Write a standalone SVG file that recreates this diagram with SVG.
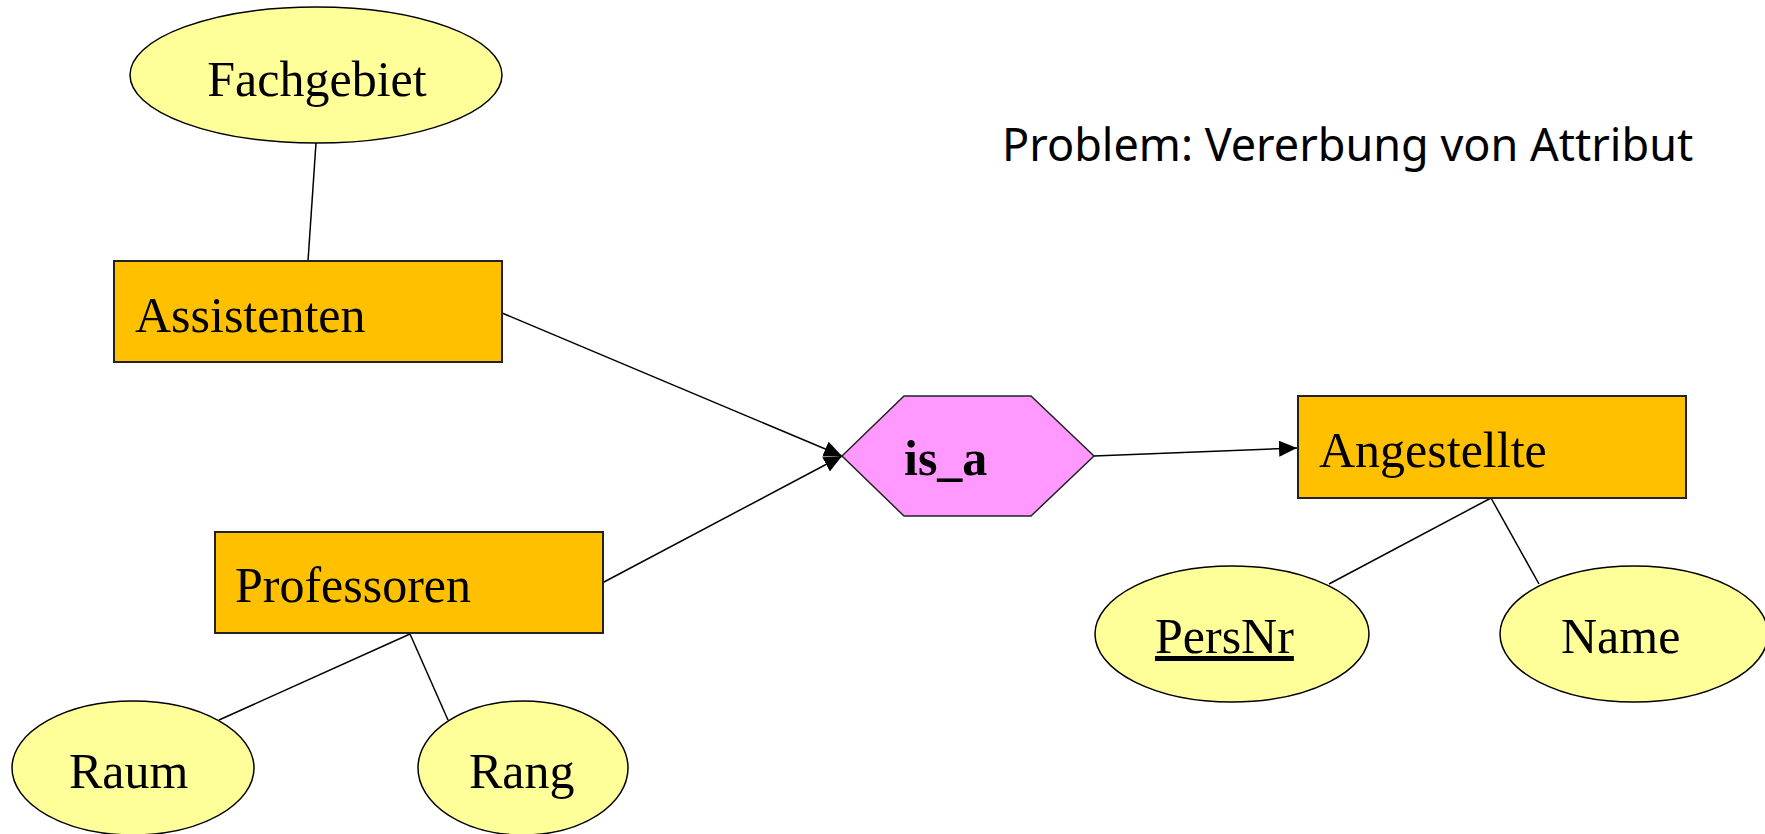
<svg xmlns="http://www.w3.org/2000/svg" width="1765" height="834" viewBox="0 0 1765 834">
<style>
.attr{fill:#FFFF99;stroke:#000;stroke-width:1.5}
.ent{fill:#FFC000;stroke:#222;stroke-width:2}
.rel{fill:#FF99FF;stroke:#222;stroke-width:1.5}
.lbl{font-family:"Liberation Serif","Times New Roman",serif;font-size:50px;fill:#000}
.edge{stroke:#000;stroke-width:1.5;fill:none}
</style>
<defs>
<marker id="arr" markerUnits="userSpaceOnUse" markerWidth="20" markerHeight="18" refX="18" refY="8" orient="auto">
<path d="M0,0 L18,8 L0,16 z" fill="#000"/>
</marker>
</defs>
<rect width="1765" height="834" fill="#fff"/>
<g id="connectors">
<line class="edge" x1="316" y1="143" x2="308" y2="261"/>
<line class="edge" x1="502" y1="313" x2="842" y2="456" marker-end="url(#arr)"/>
<line class="edge" x1="604" y1="582" x2="842" y2="456" marker-end="url(#arr)"/>
<line class="edge" x1="1094" y1="456" x2="1297" y2="448" marker-end="url(#arr)"/>
<line class="edge" x1="1491" y1="498" x2="1329" y2="584"/>
<line class="edge" x1="1491" y1="498" x2="1539" y2="584"/>
<line class="edge" x1="410" y1="634" x2="219" y2="720"/>
<line class="edge" x1="410" y1="634" x2="448" y2="720"/>
</g>
<g id="title">
<text x="1002" y="161" font-family="'Noto Sans','Open Sans',sans-serif" font-size="45">Problem: Vererbung von Attribut</text>
</g>
<g id="Fachgebiet">
<ellipse class="attr" cx="316" cy="75" rx="186" ry="68"/>
<text class="lbl" x="317" y="96" text-anchor="middle">Fachgebiet</text>
</g>
<g id="Assistenten">
<rect class="ent" x="114" y="261" width="388" height="101"/>
<text class="lbl" x="135" y="332">Assistenten</text>
</g>
<g id="Professoren">
<rect class="ent" x="215" y="532" width="388" height="101"/>
<text class="lbl" x="235" y="602">Professoren</text>
</g>
<g id="is_a">
<polygon class="rel" points="842,456 904,396 1031,396 1094,456 1031,516 904,516"/>
<text class="lbl" x="904" y="475" font-weight="bold">is_a</text>
</g>
<g id="Angestellte">
<rect class="ent" x="1298" y="396" width="388" height="102"/>
<text class="lbl" x="1319" y="467">Angestellte</text>
</g>
<g id="PersNr">
<ellipse class="attr" cx="1232" cy="634" rx="137" ry="68"/>
<text class="lbl" x="1155" y="653" text-decoration="underline">PersNr</text>
</g>
<g id="Name">
<ellipse class="attr" cx="1634" cy="634" rx="134" ry="68"/>
<text class="lbl" x="1561" y="653">Name</text>
</g>
<g id="Raum">
<ellipse class="attr" cx="133" cy="768" rx="121" ry="67"/>
<text class="lbl" x="69" y="788">Raum</text>
</g>
<g id="Rang">
<ellipse class="attr" cx="523" cy="768" rx="105" ry="67"/>
<text class="lbl" x="469" y="788">Rang</text>
</g>
</svg>
